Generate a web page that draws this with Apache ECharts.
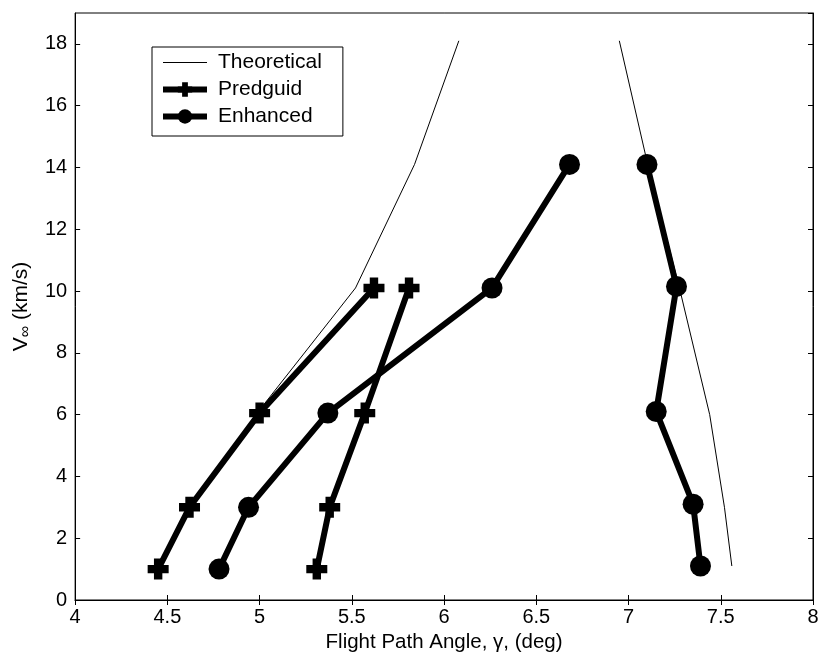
<!DOCTYPE html>
<html>
<head>
<meta charset="utf-8">
<script src="https://cdn.jsdelivr.net/npm/echarts@6/dist/echarts.min.js"></script>
</head>
<body style="margin:0; background:#fff">
<div id="container" style="width:822px; height:662px"></div>
<script type="text/javascript">
    // theoretical curve, two branches
    var theoLeft = [[4.45, 1], [4.62, 3], [4.98, 6], [5.52, 10.1], [5.84, 14.1], [6.08, 18.1]];
    var theoRight = [[7.56, 1.1], [7.52, 3], [7.44, 6], [7.28, 10], [7.10, 14.2], [6.95, 18.1]];
    // Predguid runs
    var predA = [[4.45, 1], [4.62, 3], [5.00, 6.05], [5.62, 10.1]];
    var predB = [[5.31, 1], [5.38, 3], [5.57, 6.05], [5.81, 10.1]];
    // Enhanced runs
    var enhA = [[4.78, 1], [4.94, 3], [5.37, 6.05], [6.26, 10.1], [6.68, 14.1]];
    var enhB = [[7.39, 1.1], [7.35, 3.1], [7.15, 6.1], [7.26, 10.15], [7.10, 14.1]];

    var plus = 'path://M3,0 H7 V3 H10 V7 H7 V10 H3 V7 H0 V3 H3 Z';
    var font = 'Liberation Sans, Arial, sans-serif';

    var myChart = echarts.init(document.getElementById('container'));

    // thin theoretical line: symbol fill transparent so the legend shows only the line
    function thin(name, data) {
        return {name: name, type: 'line', data: data, symbol: 'none', z: 3,
            lineStyle: {color: '#000', width: 1},
            itemStyle: {color: 'rgba(0,0,0,0)', borderWidth: 0}};
    }
    function thick(name, data, sym, size) {
        return {name: name, type: 'line', data: data, symbol: sym, symbolSize: size, z: 2,
            lineStyle: {color: '#000', width: 6}, itemStyle: {color: '#000'}};
    }

    var tickStyle = {inside: true, length: 5, lineStyle: {color: '#000'}};

    option = {
        backgroundColor: '#fff',
        animation: false,
        textStyle: {fontFamily: font},
        grid: {left: 74, right: 9, top: 13, bottom: 62, show: true, borderColor: '#000', borderWidth: 1},
        legend: {
            left: 152, top: 47,
            orient: 'vertical',
            data: [
                {name: 'Theoretical', lineStyle: {width: 1, color: '#000'}},
                {name: 'Predguid', lineStyle: {width: 6, color: '#000'}},
                {name: 'Enhanced', lineStyle: {width: 6, color: '#000'}}
            ],
            itemWidth: 44, itemHeight: 18, itemGap: 6,
            padding: [5, 21, 9, 8],
            borderColor: '#000', borderWidth: 1,
            textStyle: {fontSize: 21, color: '#000', fontFamily: font, padding: [0, 0, 0, 6]}
        },
        xAxis: [{
            type: 'value', min: 4, max: 8, interval: 0.5,
            name: 'Flight Path Angle, γ, (deg)', nameLocation: 'middle', nameGap: 28,
            nameTextStyle: {fontSize: 20.5, color: '#000'},
            axisLine: {lineStyle: {color: '#000'}},
            axisTick: tickStyle,
            axisLabel: {fontSize: 20, color: '#000', margin: 7},
            splitLine: {show: false}
        }, {
            type: 'value', min: 4, max: 8, interval: 0.5, position: 'top',
            axisLine: {lineStyle: {color: '#000'}},
            axisTick: tickStyle, axisLabel: {show: false}, splitLine: {show: false}
        }],
        yAxis: [{
            type: 'value', min: 0, max: 19, interval: 2,
            name: '{v|V}{s|∞}{v| (km/s)}', nameLocation: 'middle', nameGap: 30,
            nameTextStyle: {
                color: '#000',
                rich: {
                    v: {fontSize: 21, color: '#000', fontFamily: font, lineHeight: 24},
                    s: {fontSize: 16, color: '#000', fontFamily: font, lineHeight: 24, padding: [10, 0, 0, 0]}
                }
            },
            axisLine: {lineStyle: {color: '#000'}},
            axisTick: tickStyle,
            axisLabel: {fontSize: 20, color: '#000', margin: 8, showMaxLabel: false},
            splitLine: {show: false}
        }, {
            type: 'value', min: 0, max: 19, interval: 2, position: 'right',
            axisLine: {lineStyle: {color: '#000'}},
            axisTick: tickStyle, axisLabel: {show: false}, splitLine: {show: false}
        }],
        series: [
            thin('Theoretical', theoLeft),
            thin('Theoretical', theoRight),
            thick('Predguid', predA, plus, 21),
            thick('Predguid', predB, plus, 21),
            thick('Enhanced', enhA, 'circle', 21),
            thick('Enhanced', enhB, 'circle', 21)
        ]
    };

    myChart.setOption(option);
</script>
</body>
</html>
